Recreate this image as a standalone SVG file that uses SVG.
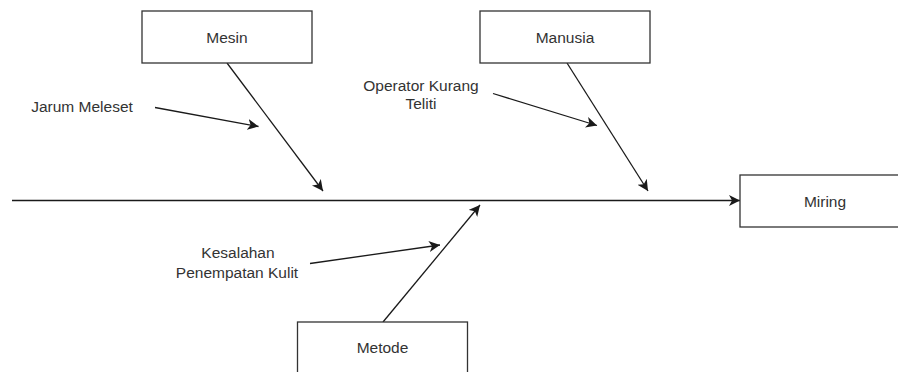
<svg xmlns="http://www.w3.org/2000/svg" width="898" height="372" viewBox="0 0 898 372">
  <style>
    .box { fill: #ffffff; stroke: #333333; stroke-width: 1.3; }
    .lbl { font-family: "Liberation Sans", Arial, sans-serif; font-size: 15.5px; fill: #333333; text-anchor: middle; }
    .wire { stroke: #1a1a1a; stroke-width: 1.3; fill: none; marker-end: url(#head); }
  </style>
  <defs>
    <marker id="head" markerUnits="userSpaceOnUse" markerWidth="13" markerHeight="12" refX="11" refY="5.5" orient="auto">
      <path d="M0,0 L11,5.5 L0,11 L3,5.5 z" fill="#1a1a1a"/>
    </marker>
  </defs>
  <rect width="898" height="372" fill="#ffffff"/>

  <g id="connectors">
    <!-- spine -->
    <line class="wire" x1="12" y1="200.5" x2="740" y2="200.5"/>
    <!-- category bones -->
    <line class="wire" x1="227" y1="63" x2="323" y2="191"/>
    <line class="wire" x1="567" y1="63" x2="648" y2="191"/>
    <line class="wire" x1="383" y1="322" x2="480" y2="205"/>
    <!-- cause arrows -->
    <line class="wire" x1="155" y1="107.5" x2="258.5" y2="126.5"/>
    <line class="wire" x1="493" y1="93.5" x2="597" y2="125.5"/>
    <line class="wire" x1="310" y1="263.5" x2="440" y2="245"/>
  </g>

  <g id="mesin">
    <rect class="box" x="142" y="11" width="170" height="52"/>
    <text class="lbl" x="227" y="42.5">Mesin</text>
  </g>
  <g id="manusia">
    <rect class="box" x="480" y="11" width="170" height="52"/>
    <text class="lbl" x="565" y="42.5">Manusia</text>
  </g>
  <g id="miring">
    <rect class="box" x="740" y="175" width="170" height="52"/>
    <text class="lbl" x="825" y="206.5">Miring</text>
  </g>
  <g id="metode">
    <rect class="box" x="297.5" y="322" width="170" height="52"/>
    <text class="lbl" x="382.5" y="352.5">Metode</text>
  </g>

  <g id="jarum-meleset">
    <text class="lbl" x="82" y="112">Jarum Meleset</text>
  </g>
  <g id="operator-kurang-teliti">
    <text class="lbl" x="421" y="91">Operator Kurang</text>
    <text class="lbl" x="421" y="109">Teliti</text>
  </g>
  <g id="kesalahan-penempatan-kulit">
    <text class="lbl" x="238" y="258">Kesalahan</text>
    <text class="lbl" x="237" y="277.5">Penempatan Kulit</text>
  </g>
</svg>
